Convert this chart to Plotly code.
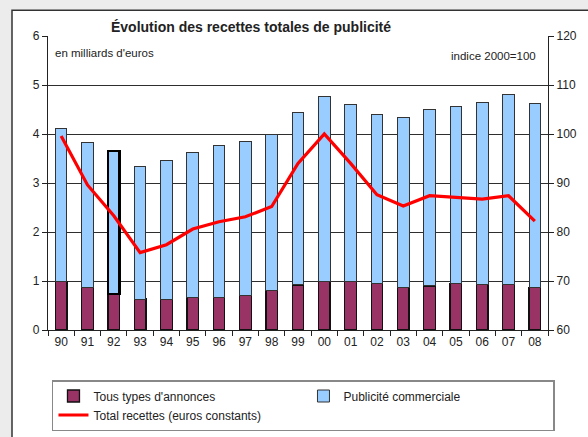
import plotly.graph_objects as go

years = ["90", "91", "92", "93", "94", "95", "96", "97", "98", "99",
         "00", "01", "02", "03", "04", "05", "06", "07", "08"]
# Tous types d'annonces (milliards d'euros)
annonces = [0.99, 0.87, 0.73, 0.63, 0.63, 0.67, 0.66, 0.71, 0.80, 0.92,
            0.99, 0.99, 0.95, 0.87, 0.90, 0.95, 0.93, 0.93, 0.87]
# Total height of stacked bar (milliards d'euros)
totals = [4.12, 3.83, 3.65, 3.34, 3.45, 3.62, 3.76, 3.85, 4.00, 4.43,
          4.77, 4.60, 4.39, 4.33, 4.49, 4.57, 4.65, 4.81, 4.62]
commerciale = [round(t - a, 2) for t, a in zip(totals, annonces)]
# Total recettes, euros constants (indice 2000=100)
indice = [99.6, 89.6, 83.3, 75.8, 77.4, 80.6, 82.1, 83.1, 85.2, 94.0,
          100.0, 94.0, 87.6, 85.3, 87.4, 87.0, 86.7, 87.4, 82.2]

FONT = "Liberation Sans, Arial, sans-serif"
TXT = "#222222"

# the 1992 bar is drawn with a heavier outline in the original
comm_line_w = [2.2 if y == "92" else 1 for y in years]
comm_line_c = ["#000000" if y == "92" else "#333333" for y in years]

fig = go.Figure()
fig.add_trace(go.Bar(
    x=years, y=annonces, name="Tous types d'annonces",
    marker=dict(color="#993366", line=dict(color="#111111", width=1.3)),
))
fig.add_trace(go.Bar(
    x=years, y=commerciale, name="Publicité commerciale",
    marker=dict(color="#99CCFF", line=dict(color=comm_line_c, width=comm_line_w)),
))
fig.add_trace(go.Scatter(
    x=years, y=indice, name="Total recettes (euros constants)", yaxis="y2",
    mode="lines", line=dict(color="#FF0000", width=3.2),
))

fig.update_layout(
    width=588, height=437,
    margin=dict(l=48, r=40, t=36, b=107, autoexpand=False),
    paper_bgcolor="#ececec",
    plot_bgcolor="rgba(0,0,0,0)",
    barmode="stack",
    bargap=0.56,
    font=dict(family=FONT, size=12, color=TXT),
    showlegend=True,
    legend=dict(
        orientation="h", xref="container", yref="container",
        x=0.0884, y=0.1304, xanchor="left", yanchor="top",
        bgcolor="white", bordercolor="#888888", borderwidth=1.5,
        font=dict(family=FONT, size=12, color=TXT),
        entrywidth=205, entrywidthmode="pixels", traceorder="normal",
        tracegroupgap=0, itemwidth=30,
    ),
    xaxis=dict(
        type="category", showline=True, linecolor="#222222", linewidth=1.2,
        ticks="outside", tickson="boundaries", ticklen=5, tickcolor="#222222",
        showgrid=False, tickfont=dict(size=12, color=TXT), automargin=False,
    ),
    yaxis=dict(
        range=[0, 6], tickvals=[0, 1, 2, 3, 4, 5, 6], showline=True,
        linecolor="#222222", linewidth=1.2, ticks="outside", ticklen=5,
        tickcolor="#222222", showgrid=True, gridcolor="#2e2e2e", gridwidth=1,
        zeroline=False, tickfont=dict(size=12, color=TXT), automargin=False,
    ),
    yaxis2=dict(
        range=[60, 120], tickvals=[60, 70, 80, 90, 100, 110, 120],
        overlaying="y", side="right", showline=True, linecolor="#222222",
        linewidth=1.2, ticks="outside", ticklen=5, tickcolor="#222222",
        showgrid=False, zeroline=False, tickfont=dict(size=12, color=TXT),
        automargin=False,
    ),
    shapes=[
        dict(type="rect", xref="paper", yref="paper", x0=-0.072, x1=1.2,
             y0=-0.5, y1=1.088, fillcolor="white",
             line=dict(color="#333333", width=1.5), layer="below"),
    ],
    annotations=[
        dict(text="<b>Évolution des recettes totales de publicité</b>",
             xref="paper", yref="paper", x=0.406, y=1.032, xanchor="center",
             yanchor="middle", showarrow=False,
             font=dict(family=FONT, size=14, color=TXT)),
        dict(text="en milliards d'euros", xref="paper", yref="paper",
             x=0.01, y=0.942, xanchor="left", yanchor="middle",
             showarrow=False, font=dict(family=FONT, size=11.5, color=TXT)),
        dict(text="indice 2000=100", xref="paper", yref="paper",
             x=0.98, y=0.932, xanchor="right", yanchor="middle",
             showarrow=False, font=dict(family=FONT, size=11.5, color=TXT)),
    ],
)

fig.write_html("out.html", config={"displayModeBar": False},
               post_script="document.body.style.margin='0';document.body.style.padding='0';")
